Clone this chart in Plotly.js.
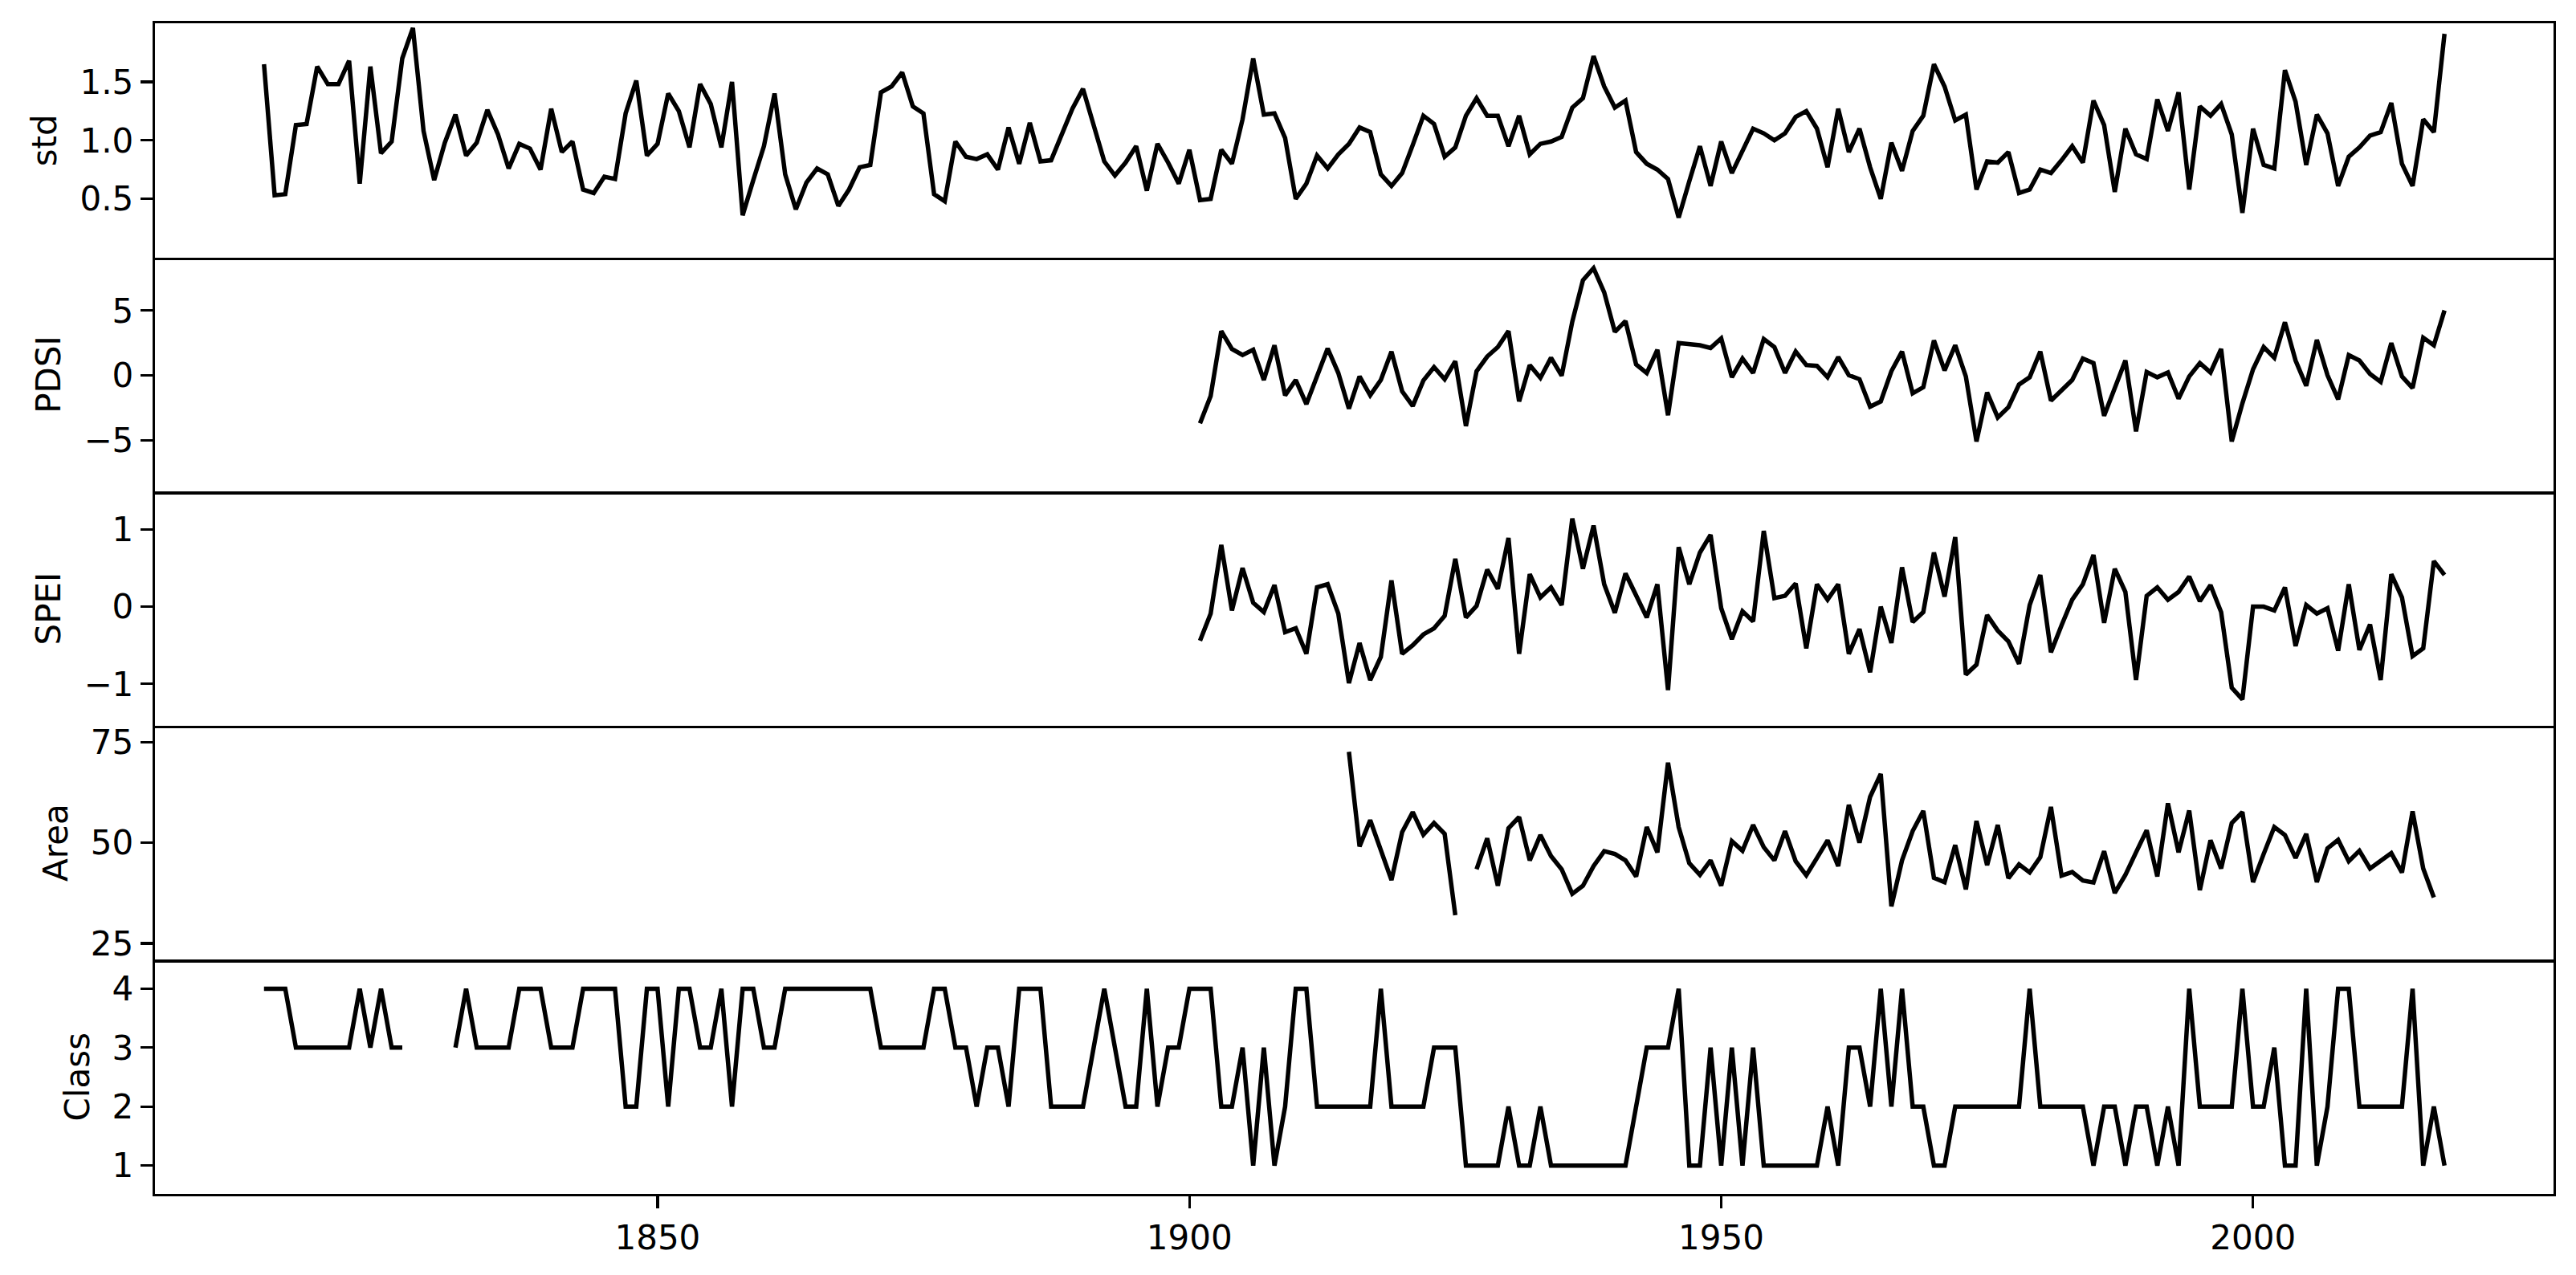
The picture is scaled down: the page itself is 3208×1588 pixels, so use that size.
<!DOCTYPE html>
<html>
<head>
<meta charset="utf-8">
<script src="https://cdn.plot.ly/plotly-3.0.1.min.js"></script>
<style>
html,body{margin:0;padding:0;background:#ffffff;}
#chart{width:3208px;height:1588px;}
</style>
</head>
<body>
<div id="chart"></div>
<script>
// ---------------- data ----------------
const years = [
1813,1814,1815,1816,1817,1818,1819,1820,1821,1822,
1823,1824,1825,1826,1827,1828,1829,1830,1831,1832,
1833,1834,1835,1836,1837,1838,1839,1840,1841,1842,
1843,1844,1845,1846,1847,1848,1849,1850,1851,1852,
1853,1854,1855,1856,1857,1858,1859,1860,1861,1862,
1863,1864,1865,1866,1867,1868,1869,1870,1871,1872,
1873,1874,1875,1876,1877,1878,1879,1880,1881,1882,
1883,1884,1885,1886,1887,1888,1889,1890,1891,1892,
1893,1894,1895,1896,1897,1898,1899,1900,1901,1902,
1903,1904,1905,1906,1907,1908,1909,1910,1911,1912,
1913,1914,1915,1916,1917,1918,1919,1920,1921,1922,
1923,1924,1925,1926,1927,1928,1929,1930,1931,1932,
1933,1934,1935,1936,1937,1938,1939,1940,1941,1942,
1943,1944,1945,1946,1947,1948,1949,1950,1951,1952,
1953,1954,1955,1956,1957,1958,1959,1960,1961,1962,
1963,1964,1965,1966,1967,1968,1969,1970,1971,1972,
1973,1974,1975,1976,1977,1978,1979,1980,1981,1982,
1983,1984,1985,1986,1987,1988,1989,1990,1991,1992,
1993,1994,1995,1996,1997,1998,1999,2000,2001,2002,
2003,2004,2005,2006,2007,2008,2009,2010,2011,2012,
2013,2014,2015,2016,2017,2018
];

// std: 1813-2018
const stdVals = [
1.65,0.53,0.54,1.13,1.14,1.63,1.48,1.48,1.68,0.63,
1.63,0.89,0.99,1.70,1.96,1.08,0.66,0.98,1.22,0.87,
0.98,1.26,1.05,0.76,0.97,0.93,0.75,1.27,0.90,0.99,
0.58,0.55,0.69,0.67,1.23,1.51,0.87,0.97,1.40,1.25,
0.94,1.48,1.31,0.94,1.50,0.36,0.66,0.95,1.40,0.71,
0.41,0.64,0.76,0.71,0.44,0.58,0.77,0.79,1.41,1.46,
1.58,1.29,1.23,0.54,0.48,0.99,0.86,0.84,0.88,0.75,
1.11,0.80,1.15,0.82,0.83,1.05,1.27,1.44,1.13,0.82,
0.70,0.81,0.95,0.57,0.97,0.81,0.63,0.92,0.49,0.50,
0.92,0.80,1.18,1.70,1.22,1.23,1.02,0.50,0.63,0.87,
0.76,0.88,0.97,1.11,1.07,0.71,0.61,0.72,0.96,1.21,
1.14,0.86,0.94,1.21,1.36,1.21,1.21,0.95,1.21,0.88,
0.97,0.99,1.03,1.28,1.36,1.72,1.46,1.28,1.34,0.90,
0.80,0.75,0.67,0.34,0.65,0.95,0.61,0.99,0.72,0.91,
1.10,1.06,1.00,1.06,1.20,1.25,1.10,0.77,1.27,0.90,
1.10,0.77,0.50,0.98,0.74,1.08,1.21,1.65,1.46,1.17,
1.22,0.58,0.82,0.81,0.90,0.55,0.58,0.75,0.72,0.83,
0.95,0.81,1.34,1.13,0.56,1.10,0.88,0.84,1.35,1.08,
1.41,0.58,1.29,1.21,1.31,1.05,0.38,1.10,0.79,0.76,
1.60,1.33,0.79,1.22,1.06,0.61,0.86,0.94,1.04,1.07,
1.32,0.80,0.61,1.18,1.07,1.91
];

// PDSI: 1901-2018
const pdsiStart = 1901;
const pdsiVals = [
-3.69,-1.59,3.42,2.04,1.57,1.98,-0.35,2.33,-1.53,-0.35,
-2.21,-0.08,2.08,0.19,-2.56,-0.08,-1.53,-0.35,1.84,-1.22,
-2.35,-0.39,0.64,-0.29,1.09,-3.90,0.33,1.46,2.19,3.42,
-2.00,0.80,-0.19,1.36,-0.02,4.15,7.34,8.27,6.41,3.36,
4.19,0.85,0.19,1.98,-3.07,2.50,2.39,2.33,2.12,2.85,
-0.14,1.30,0.19,2.81,2.19,0.19,1.84,0.80,0.74,-0.14,
1.42,0.02,-0.29,-2.41,-2.00,0.33,1.84,-1.38,-0.91,2.70,
0.39,2.33,-0.08,-5.09,-1.32,-3.24,-2.45,-0.70,-0.14,1.84,
-1.94,-1.11,-0.35,1.30,0.95,-3.11,-0.97,1.15,-4.31,0.27,
-0.14,0.23,-1.79,-0.08,0.95,0.23,2.04,-5.09,-2.15,0.47,
2.19,1.36,4.10,1.15,-0.80,2.74,0.02,-1.84,1.57,1.15,
0.12,-0.50,2.50,-0.08,-0.97,2.91,2.33,5.01
];

// SPEI: 1901-2018
const speiStart = 1901;
const speiVals = [
-0.44,-0.09,0.80,-0.05,0.50,0.05,-0.07,0.28,-0.33,-0.28,
-0.61,0.25,0.29,-0.09,-0.99,-0.47,-0.95,-0.65,0.34,-0.61,
-0.50,-0.36,-0.28,-0.12,0.62,-0.14,0.01,0.48,0.23,0.89,
-0.61,0.42,0.12,0.25,0.02,1.14,0.49,1.05,0.29,-0.08,
0.43,0.13,-0.14,0.29,-1.08,0.77,0.29,0.70,0.93,-0.02,
-0.42,-0.06,-0.19,0.98,0.11,0.14,0.30,-0.54,0.29,0.09,
0.29,-0.61,-0.29,-0.85,0.00,-0.47,0.51,-0.20,-0.07,0.70,
0.13,0.90,-0.88,-0.75,-0.11,-0.31,-0.45,-0.74,0.02,0.41,
-0.59,-0.24,0.09,0.29,0.67,-0.21,0.49,0.19,-0.95,0.14,
0.25,0.09,0.19,0.39,0.07,0.28,-0.07,-1.05,-1.20,0.00,
0.00,-0.05,0.25,-0.51,0.02,-0.09,-0.02,-0.57,0.29,-0.56,
-0.23,-0.95,0.42,0.12,-0.64,-0.54,0.59,0.41
];

// Area: 1915-2017 (1926 missing)
const areaStart = 1915;
const areaVals = [
72.6,49.1,55.6,48.2,40.7,52.6,57.6,52.0,54.9,52.2,
32.0,null,43.4,51.1,39.3,53.6,56.4,45.6,51.9,46.7,
43.4,37.3,39.3,44.2,47.9,47.2,45.6,41.6,53.9,47.6,
69.9,53.9,44.9,42.0,45.6,39.3,50.4,48.0,54.4,48.9,
45.6,52.9,45.4,41.9,46.2,50.6,44.2,59.4,50.0,61.4,
67.1,34.2,45.6,52.9,57.9,41.3,40.2,49.4,38.4,55.4,
44.4,54.4,41.2,44.6,42.6,46.4,58.9,41.8,42.7,40.6,
40.1,47.9,37.5,42.0,47.6,53.1,41.6,59.8,47.6,58.0,
38.2,50.6,43.6,54.9,57.6,40.2,47.2,53.9,51.9,46.2,
52.2,40.2,48.6,50.7,45.4,48.0,43.6,45.6,47.4,42.6,
57.8,43.6,36.4
];

// Class: 1813-2018 (1827-1830 missing)
const classVals = [
4,4,4,3,3,3,3,3,3,4,
3,4,3,3,null,null,null,null,3,4,
3,3,3,3,4,4,4,3,3,3,
4,4,4,4,2,2,4,4,2,4,
4,3,3,4,2,4,4,3,3,4,
4,4,4,4,4,4,4,4,3,3,
3,3,3,4,4,3,3,2,3,3,
2,4,4,4,2,2,2,2,3,4,
3,2,2,4,2,3,3,4,4,4,
2,2,3,1,3,1,2,4,4,2,
2,2,2,2,2,4,2,2,2,2,
3,3,3,1,1,1,1,2,1,1,
2,1,1,1,1,1,1,1,1,2,
3,3,3,4,1,1,3,1,3,1,
3,1,1,1,1,1,1,2,1,3,
3,2,4,2,4,2,2,1,1,2,
2,2,2,2,2,2,4,2,2,2,
2,2,1,2,2,1,2,2,1,2,
1,4,2,2,2,2,4,2,2,3,
1,1,4,1,2,4,4,2,2,2,
2,2,4,1,2,1
];

const panelLabels = ['std', 'PDSI', 'SPEI', 'Area', 'Class'];
const yTickVals = [[0.5, 1.0, 1.5], [-5, 0, 5], [-1, 0, 1], [25, 50, 75], [1, 2, 3, 4]];
const xTickVals = [1850, 1900, 1950, 2000];

// ---------------- build ----------------
function yearsFrom(start, n) {
  const i = years.indexOf(start);
  return years.slice(i, i + n);
}

const seriesList = [
  {x: years.slice(0, stdVals.length), y: stdVals},
  {x: yearsFrom(pdsiStart, pdsiVals.length), y: pdsiVals},
  {x: yearsFrom(speiStart, speiVals.length), y: speiVals},
  {x: yearsFrom(areaStart, areaVals.length), y: areaVals},
  {x: years.slice(0, classVals.length), y: classVals}
];

const yRanges = [[0.0, 2.0], [-8.95, 9.1], [-1.54, 1.49], [20.9, 79.1], [0.52, 4.49]];
const yTickFormats = ['.1f', 'd', 'd', 'd', 'd'];
const xRange = [1802.75, 2028.25];

const traces = [];
const layout = {
  width: 3208,
  height: 1588,
  paper_bgcolor: '#ffffff',
  plot_bgcolor: '#ffffff',
  font: {family: 'DejaVu Sans', size: 42, color: '#000000'},
  margin: {l: 193, r: 28, t: 29, b: 101, pad: 0},
  showlegend: false
};

const n = panelLabels.length;
for (let i = 0; i < n; i++) {
  const k = i + 1;
  const xa = k === 1 ? 'x' : 'x' + k;
  const ya = k === 1 ? 'y' : 'y' + k;
  traces.push({
    type: 'scatter',
    mode: 'lines',
    x: seriesList[i].x,
    y: seriesList[i].y,
    xaxis: xa,
    yaxis: ya,
    connectgaps: false,
    line: {color: '#000000', width: 5.5},
    hoverinfo: 'x+y'
  });
  const top = 1 - i / n;
  const bottom = 1 - (i + 1) / n;
  const isBottom = (i === n - 1);
  const xaxisObj = {
    domain: [0, 1],
    anchor: ya,
    range: xRange,
    showgrid: false,
    zeroline: false,
    showline: true,
    mirror: k === 1,          // only the top panel draws its top edge; others share the edge above
    linecolor: '#000000',
    linewidth: 3.3,
    tickmode: 'array',
    tickvals: xTickVals,
    ticktext: xTickVals.map(String),
    ticks: isBottom ? 'outside' : '',
    ticklen: 15,
    tickwidth: 3.3,
    tickcolor: '#000000',
    showticklabels: isBottom,
    tickfont: {family: 'DejaVu Sans', size: 42, color: '#000000'},
    automargin: false
  };
  if (k > 1) xaxisObj.matches = 'x';
  layout[k === 1 ? 'xaxis' : 'xaxis' + k] = xaxisObj;
  layout[k === 1 ? 'yaxis' : 'yaxis' + k] = {
    domain: [bottom, top],
    anchor: xa,
    range: yRanges[i],
    showgrid: false,
    zeroline: false,
    showline: true,
    mirror: true,
    linecolor: '#000000',
    linewidth: 3.3,
    tickmode: 'array',
    tickvals: yTickVals[i],
    tickformat: yTickFormats[i],
    ticks: 'outside',
    ticklen: 15,
    tickwidth: 3.3,
    tickcolor: '#000000',
    tickfont: {family: 'DejaVu Sans', size: 42, color: '#000000'},
    automargin: false,
    title: {text: panelLabels[i], font: {family: 'DejaVu Sans', size: 42, color: '#000000'}, standoff: 16}
  };
}

Plotly.newPlot('chart', traces, layout, {displayModeBar: false, staticPlot: true});
</script>
</body>
</html>
